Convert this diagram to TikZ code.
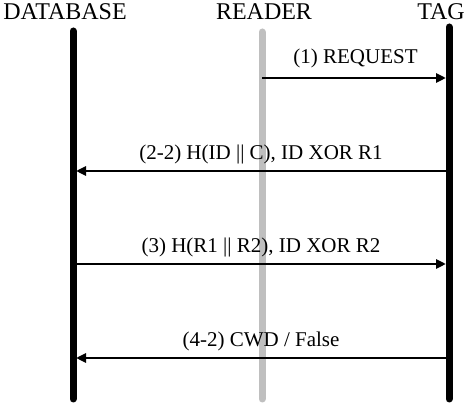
\documentclass[tikz,border=0pt]{standalone}
\usepackage{fontspec}
\setmainfont{Liberation Serif}
\usetikzlibrary{positioning,arrows.meta}

\begin{document}
\begin{tikzpicture}[x=1pt, y=-1pt, semithick,
	life/.style={line width=7pt, line cap=round},
	msg/.style={-{Triangle[length=10pt,width=9pt]}, line width=2.8pt, shorten >=3pt},
	head/.style={anchor=base, font=\fontsize{24}{27}\selectfont},
	lbl/.style={font=\fontsize{21}{24}\selectfont, above=2pt}]
	\useasboundingbox (0,0) rectangle (467,406);

	\node[head] (D) at (65,20) {DATABASE};
	\node[head] (R) at (264,20) {READER};
	\node[head] (T) at (441,20) {TAG};

	\coordinate (Dtop) at (73,31);
	\coordinate (Dbot) at (73,399);
	\coordinate (Rtop) at (262,32);
	\coordinate (Rbot) at (262,399);
	\coordinate (Ttop) at (449,27);
	\coordinate (Tbot) at (449,399);

	\draw[life, black!25] (Rtop) -- (Rbot);
	\draw[life] (Dtop) -- (Dbot);
	\draw[life] (Ttop) -- (Tbot);

	\coordinate (r1) at (262,78);
	\coordinate (t1) at (449,78);
	\coordinate (t2) at (449,171);
	\coordinate (d2) at (73,171);
	\coordinate (d3) at (73,264);
	\coordinate (t3) at (449,264);
	\coordinate (t4) at (449,358);
	\coordinate (d4) at (73,358);

	\draw[msg] (r1) -- node[lbl, above=5pt]{(1) REQUEST} (t1);
	\draw[msg] (t2) -- node[lbl]{(2-2) H(ID || C), ID XOR R1} (d2);
	\draw[msg] (d3) -- node[lbl]{(3) H(R1 || R2), ID XOR R2} (t3);
	\draw[msg] (t4) -- node[lbl]{(4-2) CWD / False} (d4);
\end{tikzpicture}
\end{document}
